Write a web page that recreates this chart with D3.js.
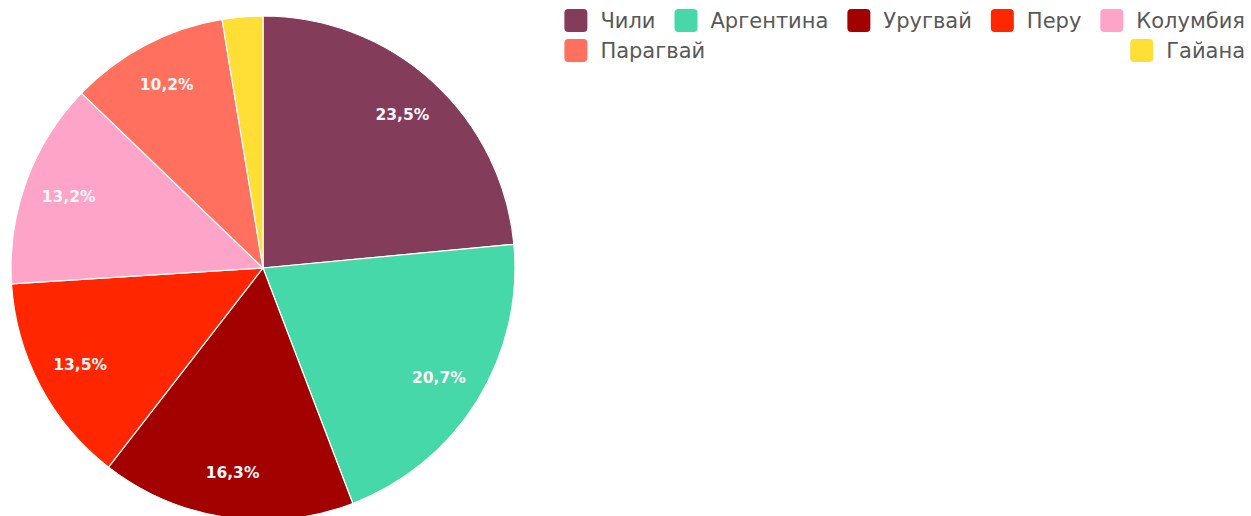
<!DOCTYPE html>
<html>
<head>
<meta charset="utf-8">
<script src="https://cdn.jsdelivr.net/npm/d3@7"></script>
<style>
  html, body { margin: 0; padding: 0; background: #ffffff; }
  svg { display: block; }
</style>
</head>
<body>
<svg id="chart" width="1251" height="516"></svg>
<script>
// Share by country, percent
const countries = ["Чили", "Аргентина", "Уругвай", "Перу", "Колумбия", "Парагвай", "Гайана"];
const shares = [23.5, 20.7, 16.3, 13.5, 13.2, 10.2, 2.6];
const palette = ["#843c5b", "#46d8a9", "#a30000", "#ff2600", "#ffa4c9", "#ff705f", "#ffde36"];
// Legend rows: indices into countries
const legendRows = [[0, 1, 2, 3, 4], [5, 6]];

const svg = d3.select("#chart");

const cx = 263, cy = 268, R = 252, labelR = 207;

const color = d3.scaleOrdinal().domain(countries).range(palette);
const data = countries.map((c, i) => ({ name: c, value: shares[i] }));

const pie = d3.pie().value(d => d.value).sort(null);
const arc = d3.arc().innerRadius(0).outerRadius(R);
const labelArc = d3.arc().innerRadius(labelR).outerRadius(labelR);

const g = svg.append("g").attr("transform", `translate(${cx},${cy})`);
const arcs = pie(data);

g.selectAll("path.slice")
  .data(arcs)
  .join("path")
  .attr("class", "slice")
  .attr("d", arc)
  .attr("fill", d => color(d.data.name))
  .attr("stroke", "#ffffff")
  .attr("stroke-width", 1.2);

const fmt = v => v.toFixed(1).replace(".", ",") + "%";

g.selectAll("text.pct")
  .data(arcs.filter(d => d.data.value >= 5))
  .join("text")
  .attr("class", "pct")
  .attr("transform", d => `translate(${labelArc.centroid(d)})`)
  .attr("text-anchor", "middle")
  .attr("dy", "0.36em")
  .attr("font-family", "DejaVu Sans, Verdana, sans-serif")
  .attr("font-size", 15.5)
  .attr("font-weight", "bold")
  .attr("fill", "#fbf6f8")
  .text(d => fmt(d.data.value));

// Legend
const fs = 21, sw = 23, gapText = 13, gapItem = 19, rowH = 30, legendRight = 1245, legendTop = 9;
const legend = svg.append("g").attr("class", "legend");

function measure(txt) {
  const t = legend.append("text")
    .attr("font-family", "DejaVu Sans, Verdana, sans-serif")
    .attr("font-size", fs)
    .text(txt);
  const w = t.node().getComputedTextLength();
  t.remove();
  return w;
}

const itemW = countries.map(c => sw + gapText + measure(c));
const row0Width = d3.sum(legendRows[0], i => itemW[i]) + gapItem * (legendRows[0].length - 1);
const legendLeft = legendRight - row0Width;

const placed = [];
legendRows.forEach((row, r) => {
  if (r === 0) {
    let x = legendLeft;
    row.forEach(i => { placed.push({ i, x, y: legendTop + r * rowH }); x += itemW[i] + gapItem; });
  } else {
    // first item at left edge, last item flush right
    placed.push({ i: row[0], x: legendLeft, y: legendTop + r * rowH });
    const last = row[row.length - 1];
    placed.push({ i: last, x: legendRight - itemW[last], y: legendTop + r * rowH });
  }
});

const items = legend.selectAll("g.item")
  .data(placed)
  .join("g")
  .attr("class", "item")
  .attr("transform", d => `translate(${d.x},${d.y})`);

items.append("rect")
  .attr("width", sw).attr("height", sw)
  .attr("rx", 4).attr("ry", 4)
  .attr("fill", d => color(countries[d.i]));

items.append("text")
  .attr("x", sw + gapText)
  .attr("y", sw / 2)
  .attr("dy", "0.36em")
  .attr("font-family", "DejaVu Sans, Verdana, sans-serif")
  .attr("font-size", fs)
  .attr("fill", "#585858")
  .text(d => countries[d.i]);
</script>
</body>
</html>
